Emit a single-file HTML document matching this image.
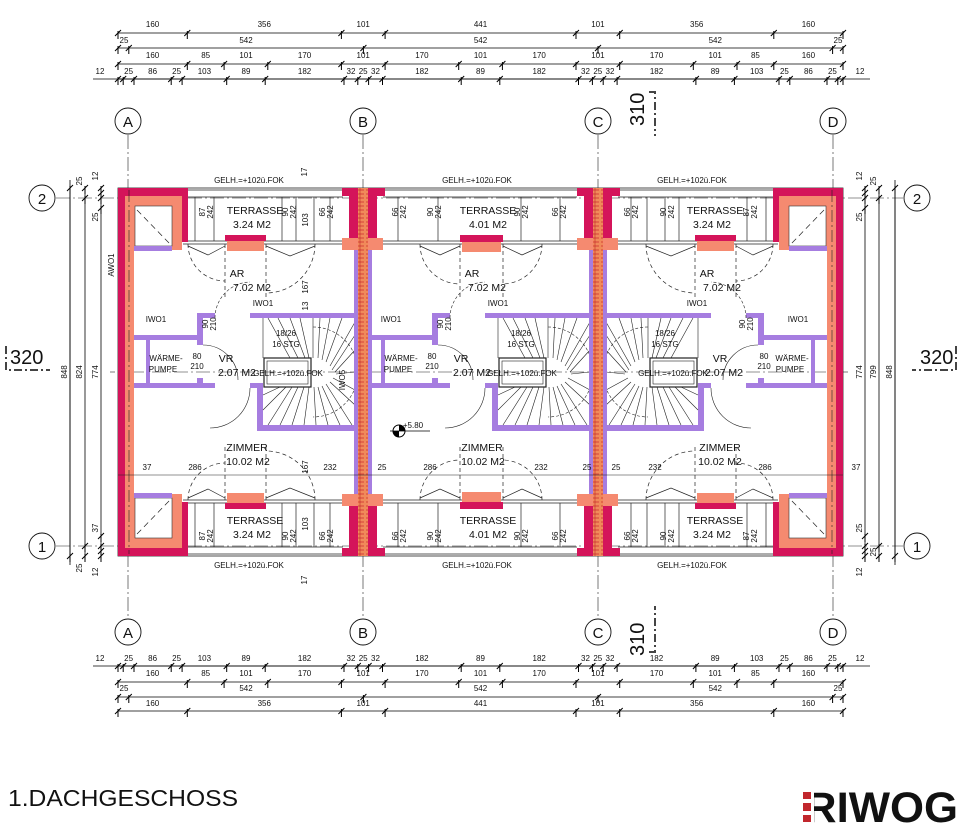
<!DOCTYPE html>
<html><head><meta charset="utf-8">
<style>
html,body{margin:0;padding:0;background:#fff;}
svg{display:block;}
text{font-family:"Liberation Sans",sans-serif;fill:#111;}
.s{font-size:8px;}
.m{font-size:10px;}
.r{font-size:10.5px;}
</style></head>
<body>
<svg width="964" height="834" viewBox="0 0 964 834" xmlns="http://www.w3.org/2000/svg">
<defs>
<marker id="t" markerUnits="userSpaceOnUse" markerWidth="10" markerHeight="14" refX="5" refY="7" orient="0">
<path d="M2,10 L8,4 M5,5 L5,13" stroke="#000" stroke-width="1" fill="none"/>
</marker>
<pattern id="hatch" width="10" height="4" patternUnits="userSpaceOnUse">
<rect width="10" height="4" fill="#f08a5a"/>
<line x1="1" y1="2" x2="9" y2="2" stroke="#d03030" stroke-width="0.8"/>
<line x1="5" y1="0" x2="5" y2="4" stroke="#c02828" stroke-width="0.6"/>
</pattern>

<!-- end wall A (left) -->
<g id="endA">
<rect x="118" y="188" width="7" height="368" fill="#d4145a"/>
<rect x="125" y="196" width="9" height="352" fill="#f58a70"/>
<g id="cornerTop">
<rect x="118" y="188" width="70" height="8" fill="#d4145a"/>
<rect x="182" y="196" width="6" height="46" fill="#d4145a"/>
<rect x="125" y="196" width="57" height="54" fill="#f58a70"/>
<rect x="135" y="206" width="37" height="40" fill="#fff" stroke="#333" stroke-width="0.6"/>
<rect x="134" y="246" width="38" height="5" fill="#a67de0"/>
<line x1="137" y1="210" x2="170" y2="244" stroke="#222" stroke-width="0.7" stroke-dasharray="6 4"/>
</g>
<use href="#cornerTop" transform="matrix(1,0,0,-1,0,744)"/>
<line x1="129" y1="190" x2="129" y2="554" stroke="#222" stroke-width="0.6" stroke-dasharray="12 3 2 3"/>
</g>

<!-- party wall at C -->
<g id="pC">
<rect x="589" y="250" width="18" height="244" fill="#a67de0"/>
<g id="pTop">
<rect x="577" y="188" width="43" height="8" fill="#d4145a"/>
<rect x="584" y="196" width="28" height="42" fill="#d4145a"/>
<rect x="577" y="238" width="41" height="12" fill="#f58a70"/>
</g>
<use href="#pTop" transform="matrix(1,0,0,-1,0,744)"/>
<rect x="593" y="188" width="10" height="368" fill="url(#hatch)"/>
</g>

<!-- unit interior (left unit coordinates) -->
<g id="unit" fill="#a67de0">
<rect x="197" y="313" width="18" height="5"/>
<rect x="250" y="313" width="105" height="5"/>
<rect x="197" y="313" width="6" height="32"/>
<rect x="197" y="378" width="6" height="10"/>
<rect x="134" y="335" width="69" height="5"/>
<rect x="146" y="340" width="4" height="43"/>
<rect x="134" y="383" width="81" height="5"/>
<rect x="250" y="383" width="13" height="5"/>
<rect x="257" y="383" width="6" height="48"/>
<rect x="257" y="425" width="98" height="6"/>
<g fill="none" stroke="#222" stroke-width="0.6">
<rect x="264" y="358" width="47" height="29" stroke-width="1.2"/>
<rect x="267" y="361" width="41" height="23"/>
<line x1="263" y1="318" x2="263" y2="358"/>
<path d="M313,318 L313,358 M320,318 L318,358 M330,318 L322,360 M342,318 L326,362 M355,322 L330,366 M355,335 L332,370 M355,350 L335,372 M355,372 L336,374 M355,390 L333,378 M355,405 L330,382 M352,425 L326,384 M340,425 L322,386 M328,425 L318,387 M316,425 L314,387 M304,425 L309,387 M292,425 L304,387 M280,425 L298,387 M268,425 L292,387 M263,410 L286,387 M263,395 L280,387"/>
<path d="M268,318 L290,358 M278,318 L298,358 M290,318 L305,358 M300,318 L309,358"/>
<path d="M313,327 A45,45 0 0 1 313,417" stroke-dasharray="3 2"/>
<path d="M203,345 A35,35 0 0 1 238,380" />
<path d="M250,388 A40,40 0 0 1 210,428"/>
<path d="M215,318 A36,36 0 0 1 250,282" stroke-dasharray="3 2"/>
</g>
</g>

<!-- terrace top for left unit -->
<g id="terL">
<g stroke="#222" fill="none" stroke-width="0.7">
<line x1="188" y1="190" x2="343" y2="190"/>
<line x1="188" y1="197" x2="343" y2="197"/>
<line x1="183" y1="241" x2="343" y2="241"/>
<line x1="183" y1="244" x2="343" y2="244"/>
<line x1="195" y1="197" x2="195" y2="241"/>
<line x1="214" y1="197" x2="214" y2="241"/>
<line x1="282" y1="197" x2="282" y2="241"/>
<line x1="296" y1="197" x2="296" y2="241"/>
<line x1="314" y1="197" x2="314" y2="241"/>
<line x1="330" y1="197" x2="330" y2="241"/>
<path d="M188,244 A37,37 0 0 0 225,281" stroke-dasharray="4 3"/>
<path d="M225,244 L225,300" stroke-dasharray="4 3"/>
<path d="M315,244 A49,49 0 0 1 266,293" stroke-dasharray="4 3"/>
<path d="M266,244 L266,300" stroke-dasharray="4 3"/>
<path d="M188,246 L208,255 L225,246 M266,246 L290,256 L315,246"/>
</g>
<rect x="225" y="235" width="41" height="6" fill="#d4145a"/>
<rect x="227" y="241" width="37" height="10" fill="#f58a70"/>
</g>
<g id="terM">
<g stroke="#222" fill="none" stroke-width="0.7">
<line x1="383" y1="190" x2="577" y2="190"/>
<line x1="383" y1="197" x2="577" y2="197"/>
<line x1="383" y1="241" x2="577" y2="241"/>
<line x1="383" y1="244" x2="577" y2="244"/>
<line x1="398" y1="197" x2="398" y2="241"/>
<line x1="438" y1="197" x2="438" y2="241"/>
<line x1="521" y1="197" x2="521" y2="241"/>
<line x1="560" y1="197" x2="560" y2="241"/>
<path d="M420,244 A40,40 0 0 0 460,284" stroke-dasharray="4 3"/>
<path d="M542,244 A40,40 0 0 1 503,284" stroke-dasharray="4 3"/>
<path d="M460,244 L460,300 M503,244 L503,300" stroke-dasharray="4 3"/>
<path d="M420,246 L440,255 L460,246 M503,246 L522,255 L542,246"/>
</g>
<rect x="460" y="235" width="43" height="7" fill="#d4145a"/>
<rect x="462" y="242" width="39" height="10" fill="#f58a70"/>
</g>
</defs>

<!-- grid lines -->
<g stroke="#222" stroke-width="0.6" stroke-dasharray="14 3 2 3" fill="none">
<line x1="128" y1="135" x2="128" y2="618"/>
<line x1="363" y1="135" x2="363" y2="618"/>
<line x1="598" y1="135" x2="598" y2="618"/>
<line x1="833" y1="135" x2="833" y2="618"/>
<line x1="56" y1="198" x2="903" y2="198"/>
<line x1="56" y1="546" x2="903" y2="546"/>
<line x1="130" y1="372" x2="830" y2="372"/>
</g>

<!-- building outline -->
<rect x="118" y="188" width="725" height="368" fill="none" stroke="#222" stroke-width="0.8"/>

<use href="#terL"/>
<use href="#terL" transform="matrix(1,0,0,-1,0,744)"/>
<use href="#terM"/>
<use href="#terM" transform="matrix(1,0,0,-1,0,744)"/>
<use href="#terL" transform="matrix(-1,0,0,1,961,0)"/>
<use href="#terL" transform="matrix(-1,0,0,-1,961,744)"/>

<use href="#unit"/>
<use href="#unit" transform="translate(235,0)"/>
<use href="#unit" transform="matrix(-1,0,0,1,961,0)"/>

<use href="#endA"/>
<use href="#endA" transform="matrix(-1,0,0,1,961,0)"/>
<use href="#pC"/>
<use href="#pC" transform="translate(-235,0)"/>

<!-- horizontal inner dim line -->
<line x1="118" y1="475" x2="843" y2="475" stroke="#222" stroke-width="0.6"/>
<line x1="110" y1="372" x2="118" y2="372" stroke="#222" stroke-width="0.6" stroke-dasharray="5 3"/>
<line x1="843" y1="372" x2="851" y2="372" stroke="#222" stroke-width="0.6" stroke-dasharray="5 3"/>

<!-- top dimension chains -->
<g stroke="#000" stroke-width="0.8" fill="none">
<polyline marker-start="url(#t)" marker-mid="url(#t)" marker-end="url(#t)" points="118,33 187.3,33 341.4,33 385.1,33 576,33 619.7,33 773.8,33 843,33"/>
<polyline marker-start="url(#t)" marker-mid="url(#t)" marker-end="url(#t)" points="118,48 128.8,48 363.4,48 598,48 832.6,48 843,48"/>
<polyline marker-start="url(#t)" marker-mid="url(#t)" marker-end="url(#t)" points="118,64 187.3,64 224.1,64 267.8,64 341.4,64 385.1,64 458.7,64 502.4,64 576,64 619.7,64 693.3,64 737,64 773.8,64 843,64"/>
<line x1="93" y1="79" x2="870" y2="79"/>
<polyline marker-start="url(#t)" marker-mid="url(#t)" marker-end="url(#t)" points="118,79 123.2,79 134,79 171.2,79 182.1,79 226.7,79 265.2,79 344,79 357.8,79 368.6,79 382.5,79 461.2,79 499.8,79 578.5,79 592.4,79 603.2,79 617.1,79 695.9,79 734.4,79 779,79 789.8,79 827,79 837.8,79 843,79"/>
<!-- bottom chains -->
<line x1="93" y1="666" x2="870" y2="666"/>
<polyline marker-start="url(#t)" marker-mid="url(#t)" marker-end="url(#t)" points="118,666 123.2,666 134,666 171.2,666 182.1,666 226.7,666 265.2,666 344,666 357.8,666 368.6,666 382.5,666 461.2,666 499.8,666 578.5,666 592.4,666 603.2,666 617.1,666 695.9,666 734.4,666 779,666 789.8,666 827,666 837.8,666 843,666"/>
<polyline marker-start="url(#t)" marker-mid="url(#t)" marker-end="url(#t)" points="118,682 187.3,682 224.1,682 267.8,682 341.4,682 385.1,682 458.7,682 502.4,682 576,682 619.7,682 693.3,682 737,682 773.8,682 843,682"/>
<polyline marker-start="url(#t)" marker-mid="url(#t)" marker-end="url(#t)" points="118,697 128.8,697 363.4,697 598,697 832.6,697 843,697"/>
<polyline marker-start="url(#t)" marker-mid="url(#t)" marker-end="url(#t)" points="118,711 187.3,711 341.4,711 385.1,711 576,711 619.7,711 773.8,711 843,711"/>
<!-- side vertical chains -->
<polyline marker-start="url(#t)" marker-mid="url(#t)" marker-end="url(#t)" points="70,188 70,556"/>
<polyline marker-start="url(#t)" marker-mid="url(#t)" marker-end="url(#t)" points="85,188 85,198 85,546 85,556"/>
<polyline marker-start="url(#t)" marker-mid="url(#t)" marker-end="url(#t)" points="101,188 101,193 101,198 101,208 101,536 101,546 101,551 101,556"/>
<polyline marker-start="url(#t)" marker-mid="url(#t)" marker-end="url(#t)" points="865,188 865,193 865,198 865,208 865,536 865,546 865,551 865,556"/>
<polyline marker-start="url(#t)" marker-mid="url(#t)" marker-end="url(#t)" points="879,188 879,198 879,546 879,556"/>
<polyline marker-start="url(#t)" marker-mid="url(#t)" marker-end="url(#t)" points="895,188 895,556"/>
<line x1="70" y1="180" x2="70" y2="565"/>
<line x1="895" y1="180" x2="895" y2="565"/>
</g>

<g class="s" text-anchor="middle">
<text x="152.6" y="27">160</text><text x="264.3" y="27">356</text><text x="363.2" y="27">101</text><text x="480.5" y="27">441</text><text x="597.9" y="27">101</text><text x="696.7" y="27">356</text><text x="808.4" y="27">160</text>
<text x="124" y="43">25</text><text x="246" y="43">542</text><text x="480.5" y="43">542</text><text x="715.3" y="43">542</text><text x="838" y="43">25</text>
<text x="152.6" y="58">160</text><text x="205.7" y="58">85</text><text x="246" y="58">101</text><text x="304.6" y="58">170</text><text x="363.2" y="58">101</text><text x="421.9" y="58">170</text><text x="480.5" y="58">101</text><text x="539.2" y="58">170</text><text x="597.9" y="58">101</text><text x="656.5" y="58">170</text><text x="715.2" y="58">101</text><text x="755.4" y="58">85</text><text x="808.4" y="58">160</text>
<text x="100" y="74">12</text><text x="128.6" y="74">25</text><text x="152.6" y="74">86</text><text x="176.6" y="74">25</text><text x="204.4" y="74">103</text><text x="246" y="74">89</text><text x="304.6" y="74">182</text><text x="351" y="74">32</text><text x="363.2" y="74">25</text><text x="375.5" y="74">32</text><text x="421.9" y="74">182</text><text x="480.5" y="74">89</text><text x="539.2" y="74">182</text><text x="585.5" y="74">32</text><text x="597.8" y="74">25</text><text x="610" y="74">32</text><text x="656.5" y="74">182</text><text x="715.2" y="74">89</text><text x="756.7" y="74">103</text><text x="784.4" y="74">25</text><text x="808.4" y="74">86</text><text x="832.4" y="74">25</text><text x="860" y="74">12</text>

<text x="100" y="661">12</text><text x="128.6" y="661">25</text><text x="152.6" y="661">86</text><text x="176.6" y="661">25</text><text x="204.4" y="661">103</text><text x="246" y="661">89</text><text x="304.6" y="661">182</text><text x="351" y="661">32</text><text x="363.2" y="661">25</text><text x="375.5" y="661">32</text><text x="421.9" y="661">182</text><text x="480.5" y="661">89</text><text x="539.2" y="661">182</text><text x="585.5" y="661">32</text><text x="597.8" y="661">25</text><text x="610" y="661">32</text><text x="656.5" y="661">182</text><text x="715.2" y="661">89</text><text x="756.7" y="661">103</text><text x="784.4" y="661">25</text><text x="808.4" y="661">86</text><text x="832.4" y="661">25</text><text x="860" y="661">12</text>
<text x="152.6" y="676">160</text><text x="205.7" y="676">85</text><text x="246" y="676">101</text><text x="304.6" y="676">170</text><text x="363.2" y="676">101</text><text x="421.9" y="676">170</text><text x="480.5" y="676">101</text><text x="539.2" y="676">170</text><text x="597.9" y="676">101</text><text x="656.5" y="676">170</text><text x="715.2" y="676">101</text><text x="755.4" y="676">85</text><text x="808.4" y="676">160</text>
<text x="124" y="691">25</text><text x="246" y="691">542</text><text x="480.5" y="691">542</text><text x="715.3" y="691">542</text><text x="838" y="691">25</text>
<text x="152.6" y="706">160</text><text x="264.3" y="706">356</text><text x="363.2" y="706">101</text><text x="480.5" y="706">441</text><text x="597.9" y="706">101</text><text x="696.7" y="706">356</text><text x="808.4" y="706">160</text>
</g>

<!-- side texts rotated -->
<g class="s" text-anchor="middle">
<text transform="translate(67,372) rotate(-90)">848</text>
<text transform="translate(82,372) rotate(-90)">824</text>
<text transform="translate(98,372) rotate(-90)">774</text>
<text transform="translate(862,372) rotate(-90)">774</text>
<text transform="translate(876,372) rotate(-90)">799</text>
<text transform="translate(892,372) rotate(-90)">848</text>
<text transform="translate(82,181) rotate(-90)">25</text>
<text transform="translate(98,176) rotate(-90)">12</text>
<text transform="translate(98,217) rotate(-90)">25</text>
<text transform="translate(98,528) rotate(-90)">37</text>
<text transform="translate(82,568) rotate(-90)">25</text>
<text transform="translate(98,572) rotate(-90)">12</text>
<text transform="translate(862,176) rotate(-90)">12</text>
<text transform="translate(876,181) rotate(-90)">25</text>
<text transform="translate(862,217) rotate(-90)">25</text>
<text transform="translate(862,528) rotate(-90)">25</text>
<text transform="translate(876,552) rotate(-90)">25</text>
<text transform="translate(862,572) rotate(-90)">12</text>
<text transform="translate(114,265) rotate(-90)">AWO1</text>
<text transform="translate(345,380) rotate(-90)">IWO5</text>
<text transform="translate(307,172) rotate(-90)">17</text>
<text transform="translate(307,580) rotate(-90)">17</text>
</g>

<!-- grid circles -->
<g fill="#fff" stroke="#111" stroke-width="0.9">
<circle cx="128" cy="121" r="13"/><circle cx="363" cy="121" r="13"/><circle cx="598" cy="121" r="13"/><circle cx="833" cy="121" r="13"/>
<circle cx="128" cy="632" r="13"/><circle cx="363" cy="632" r="13"/><circle cx="598" cy="632" r="13"/><circle cx="833" cy="632" r="13"/>
<circle cx="42" cy="198" r="13"/><circle cx="42" cy="546" r="13"/><circle cx="917" cy="198" r="13"/><circle cx="917" cy="546" r="13"/>
</g>
<g font-size="15" text-anchor="middle">
<text x="128" y="127">A</text><text x="363" y="127">B</text><text x="598" y="127">C</text><text x="833" y="127">D</text>
<text x="128" y="638">A</text><text x="363" y="638">B</text><text x="598" y="638">C</text><text x="833" y="638">D</text>
<text x="42" y="204">2</text><text x="42" y="552">1</text><text x="917" y="204">2</text><text x="917" y="552">1</text>
</g>

<!-- section marks -->
<g fill="#444" font-size="20">
<text x="10" y="364" fill="#444">320</text>
<text x="920" y="364" fill="#444">320</text>
<text transform="translate(644,126) rotate(-90)" fill="#444">310</text>
<text transform="translate(644,656) rotate(-90)" fill="#444">310</text>
</g>
<g stroke="#444" stroke-width="2" fill="none">
<path d="M6,346 L6,370 L50,370" stroke-dasharray="8 3 2 3"/>
<path d="M956,346 L956,370 L912,370" stroke-dasharray="8 3 2 3"/>
<path d="M649,92 L655,92 L655,136" stroke-dasharray="8 3 2 3"/>
<path d="M649,652 L655,652 L655,606" stroke-dasharray="8 3 2 3"/>
</g>

<!-- GELH labels -->
<g class="s" text-anchor="middle">
<text x="249" y="183">GELH.=+102ü.FOK</text><text x="477" y="183">GELH.=+102ü.FOK</text><text x="692" y="183">GELH.=+102ü.FOK</text>
<text x="249" y="568">GELH.=+102ü.FOK</text><text x="477" y="568">GELH.=+102ü.FOK</text><text x="692" y="568">GELH.=+102ü.FOK</text>
<text x="288" y="376">GELH.=+102ü.FOK</text><text x="522" y="376">GELH.=+102ü.FOK</text><text x="673" y="376">GELH.=+102ü.FOK</text>
</g>

<!-- room labels -->
<g class="r" text-anchor="middle">
<text x="255" y="214">TERRASSE</text><text x="252" y="228">3.24  M2</text>
<text x="488" y="214">TERRASSE</text><text x="488" y="228">4.01  M2</text>
<text x="715" y="214">TERRASSE</text><text x="712" y="228">3.24  M2</text>
<text x="255" y="524">TERRASSE</text><text x="252" y="538">3.24  M2</text>
<text x="488" y="524">TERRASSE</text><text x="488" y="538">4.01  M2</text>
<text x="715" y="524">TERRASSE</text><text x="712" y="538">3.24  M2</text>
<text x="237" y="277">AR</text><text x="252" y="291">7.02  M2</text>
<text x="472" y="277">AR</text><text x="487" y="291">7.02  M2</text>
<text x="707" y="277">AR</text><text x="722" y="291">7.02  M2</text>
<text x="226" y="362">VR</text><text x="237" y="376">2.07  M2</text>
<text x="461" y="362">VR</text><text x="472" y="376">2.07  M2</text>
<text x="720" y="362">VR</text><text x="724" y="376">2.07  M2</text>
<text x="247" y="451">ZIMMER</text><text x="248" y="465">10.02  M2</text>
<text x="482" y="451">ZIMMER</text><text x="483" y="465">10.02  M2</text>
<text x="720" y="451">ZIMMER</text><text x="720" y="465">10.02  M2</text>
</g>
<g class="s" text-anchor="middle">
<text x="166" y="361">WÄRME-</text><text x="163" y="372">PUMPE</text>
<text x="401" y="361">WÄRME-</text><text x="398" y="372">PUMPE</text>
<text x="792" y="361">WÄRME-</text><text x="790" y="372">PUMPE</text>
<text x="197" y="359">80</text><text x="197" y="369">210</text>
<text x="432" y="359">80</text><text x="432" y="369">210</text>
<text x="764" y="359">80</text><text x="764" y="369">210</text>
<text x="156" y="322">IWO1</text><text x="391" y="322">IWO1</text><text x="798" y="322">IWO1</text>
<text x="263" y="306">IWO1</text><text x="498" y="306">IWO1</text><text x="697" y="306">IWO1</text>
<text x="286" y="336">18/26</text><text x="286" y="347">16 STG</text>
<text x="521" y="336">18/26</text><text x="521" y="347">16 STG</text>
<text x="665" y="336">18/26</text><text x="665" y="347">16 STG</text>
<text x="147" y="470">37</text><text x="195" y="470">286</text><text x="330" y="470">232</text><text x="382" y="470">25</text>
<text x="430" y="470">286</text><text x="541" y="470">232</text><text x="587" y="470">25</text>
<text x="616" y="470">25</text><text x="655" y="470">232</text><text x="765" y="470">286</text><text x="856" y="470">37</text>
<text x="413" y="428">+5.80</text>
</g>
<g class="s" text-anchor="middle">
<text transform="translate(205,212) rotate(-90)">87</text><text transform="translate(213,212) rotate(-90)">242</text>
<text transform="translate(288,212) rotate(-90)">90</text><text transform="translate(296,212) rotate(-90)">242</text>
<text transform="translate(325,212) rotate(-90)">66</text><text transform="translate(333,212) rotate(-90)">242</text>
<text transform="translate(308,220) rotate(-90)">103</text><text transform="translate(308,287) rotate(-90)">167</text><text transform="translate(308,306) rotate(-90)">13</text>
<text transform="translate(398,212) rotate(-90)">66</text><text transform="translate(406,212) rotate(-90)">242</text>
<text transform="translate(433,212) rotate(-90)">90</text><text transform="translate(441,212) rotate(-90)">242</text>
<text transform="translate(520,212) rotate(-90)">90</text><text transform="translate(528,212) rotate(-90)">242</text>
<text transform="translate(558,212) rotate(-90)">66</text><text transform="translate(566,212) rotate(-90)">242</text>
<text transform="translate(630,212) rotate(-90)">66</text><text transform="translate(638,212) rotate(-90)">242</text>
<text transform="translate(666,212) rotate(-90)">90</text><text transform="translate(674,212) rotate(-90)">242</text>
<text transform="translate(749,212) rotate(-90)">87</text><text transform="translate(757,212) rotate(-90)">242</text>
<text transform="translate(205,536) rotate(-90)">87</text><text transform="translate(213,536) rotate(-90)">242</text>
<text transform="translate(288,536) rotate(-90)">90</text><text transform="translate(296,536) rotate(-90)">242</text>
<text transform="translate(325,536) rotate(-90)">66</text><text transform="translate(333,536) rotate(-90)">242</text>
<text transform="translate(308,524) rotate(-90)">103</text><text transform="translate(308,467) rotate(-90)">167</text>
<text transform="translate(398,536) rotate(-90)">66</text><text transform="translate(406,536) rotate(-90)">242</text>
<text transform="translate(433,536) rotate(-90)">90</text><text transform="translate(441,536) rotate(-90)">242</text>
<text transform="translate(520,536) rotate(-90)">90</text><text transform="translate(528,536) rotate(-90)">242</text>
<text transform="translate(558,536) rotate(-90)">66</text><text transform="translate(566,536) rotate(-90)">242</text>
<text transform="translate(630,536) rotate(-90)">66</text><text transform="translate(638,536) rotate(-90)">242</text>
<text transform="translate(666,536) rotate(-90)">90</text><text transform="translate(674,536) rotate(-90)">242</text>
<text transform="translate(749,536) rotate(-90)">87</text><text transform="translate(757,536) rotate(-90)">242</text>
<text transform="translate(208,324) rotate(-90)">90</text><text transform="translate(216,324) rotate(-90)">210</text>
<text transform="translate(443,324) rotate(-90)">90</text><text transform="translate(451,324) rotate(-90)">210</text>
<text transform="translate(745,324) rotate(-90)">90</text><text transform="translate(753,324) rotate(-90)">210</text>
</g>
<!-- level symbol -->
<circle cx="399" cy="431" r="6" fill="#fff" stroke="#000" stroke-width="1"/>
<path d="M399,425 A6,6 0 0 1 405,431 L399,431 Z M399,437 A6,6 0 0 1 393,431 L399,431 Z" fill="#000"/>
<line x1="390" y1="431" x2="430" y2="431" stroke="#000" stroke-width="0.7"/>

<!-- title -->
<text x="8" y="806" font-size="23" fill="#222" textLength="230" lengthAdjust="spacingAndGlyphs">1.DACHGESCHOSS</text>

<!-- logo -->
<text x="805" y="822" font-size="43" font-weight="bold" fill="#58585a" textLength="153" lengthAdjust="spacingAndGlyphs">RIWOG</text>
<rect x="800" y="790" width="14" height="34" fill="#fff"/>
<rect x="803" y="792" width="8" height="7" fill="#c1272d"/>
<rect x="803" y="803" width="8" height="8" fill="#c1272d"/>
<rect x="803" y="815" width="8" height="7" fill="#c1272d"/>
</svg>
</body></html>
